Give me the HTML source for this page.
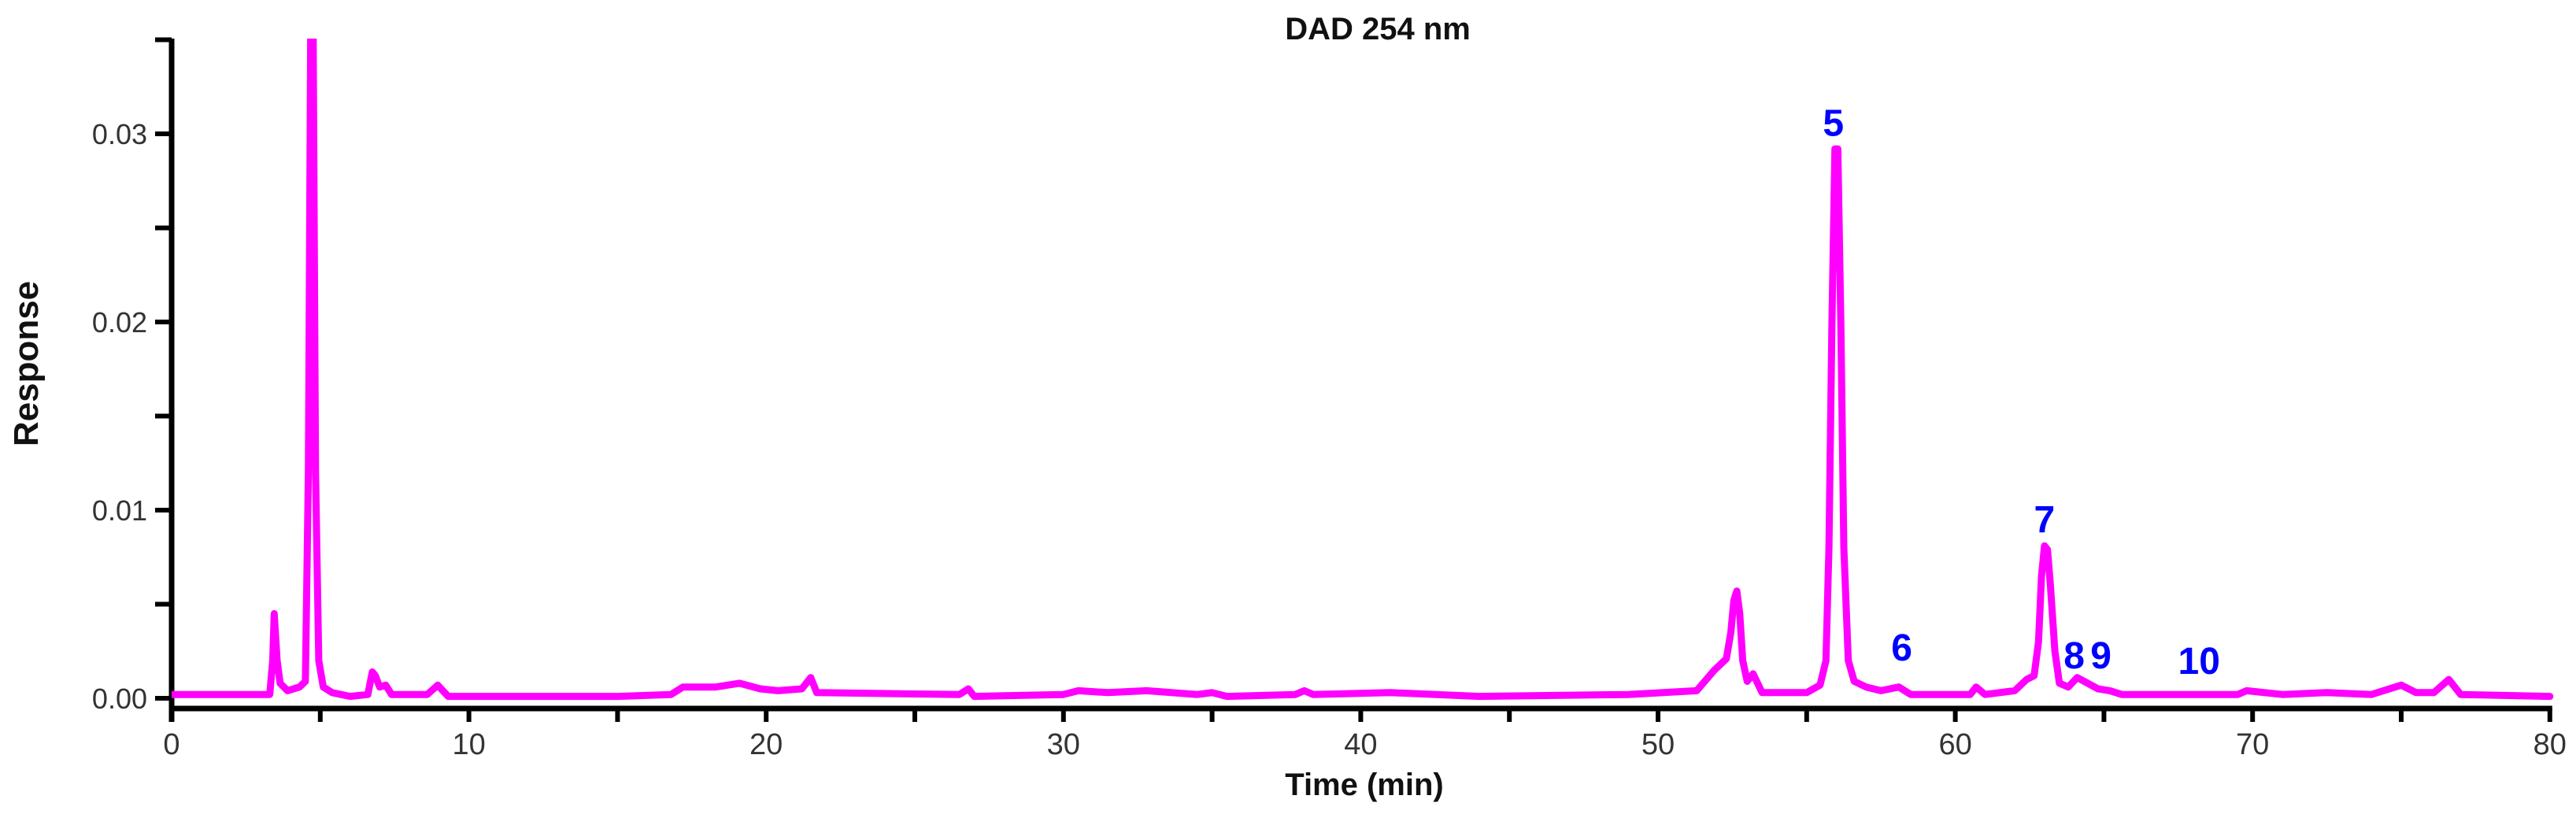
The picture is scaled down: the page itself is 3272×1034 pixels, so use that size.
<!DOCTYPE html>
<html><head><meta charset="utf-8"><style>
html,body{margin:0;padding:0;background:#fff;}
svg{display:block;}
</style></head><body>
<svg id="chart" width="3272" height="1034" viewBox="0 0 3272 1034" xmlns="http://www.w3.org/2000/svg" font-family="Liberation Sans, Arial, sans-serif">
<text x="1750" y="50" text-anchor="middle" font-size="40" font-weight="bold" fill="#111">DAD 254 nm</text>
<text transform="translate(48,462) rotate(-90)" text-anchor="middle" font-size="44" font-weight="bold" fill="#111">Response</text>
<text x="1733" y="1010" text-anchor="middle" font-size="40" font-weight="bold" fill="#111">Time (min)</text>
<g id="axes"></g>
<g id="series"></g>
<g id="labels"></g>
</svg>
<script>
const times = [0,3.3,3.4,3.45,3.55,3.65,3.9,4.3,4.5,4.6,4.68,4.76,4.84,4.95,5.1,5.4,6.0,6.6,6.75,6.85,7.0,7.2,7.4,8.6,8.95,9.3,15,16.8,17.2,18.3,19.1,19.8,20.4,21.2,21.5,21.7,26.5,26.8,27.0,30,30.5,31.5,32.8,34.5,35,35.5,37.8,38.1,38.4,41,44,49,51.3,51.9,52.3,52.45,52.55,52.65,52.75,52.85,53.0,53.2,53.5,54.5,55,55.45,55.65,55.75,55.85,55.95,56.05,56.15,56.25,56.4,56.6,57,57.5,58.1,58.5,60.5,60.7,61,62,62.4,62.65,62.8,62.9,63.0,63.1,63.2,63.35,63.5,63.8,64.1,64.8,65.2,65.6,69.5,69.8,71,72.5,74,75,75.5,76.1,76.6,77,80];
const responses = [0.0002,0.0002,0.002,0.0045,0.002,0.0008,0.0004,0.0006,0.0009,0.012,0.04,0.04,0.012,0.002,0.0006,0.0003,0.0001,0.0002,0.0014,0.0012,0.0006,0.0007,0.0002,0.0002,0.0007,0.0001,0.0001,0.0002,0.0006,0.0006,0.0008,0.0005,0.0004,0.0005,0.0011,0.0003,0.0002,0.0005,0.0001,0.0002,0.0004,0.0003,0.0004,0.0002,0.0003,0.0001,0.0002,0.0004,0.0002,0.0003,0.0001,0.0002,0.0004,0.0015,0.0021,0.0035,0.0052,0.0057,0.0045,0.002,0.0009,0.0013,0.0003,0.0003,0.0003,0.0007,0.002,0.008,0.02,0.0292,0.0292,0.02,0.008,0.002,0.0009,0.0006,0.0004,0.0006,0.0002,0.0002,0.0006,0.0002,0.0004,0.001,0.0012,0.003,0.0065,0.0081,0.0079,0.006,0.0025,0.0008,0.0006,0.0011,0.0005,0.0004,0.0002,0.0002,0.0004,0.0002,0.0003,0.0002,0.0007,0.0003,0.0003,0.0010,0.0002,0.0001];
const xTickValues = [0,5,10,15,20,25,30,35,40,45,50,55,60,65,70,75,80];
const xTickLabels = ["0","","10","","20","","30","","40","","50","","60","","70","","80"];
const yTickValues = [0,0.005,0.01,0.015,0.02,0.025,0.03,0.035];
const yTickLabels = ["0.00","","0.01","","0.02","","0.03",""];
const peakNames = ["5","6","7","8","9","10"];
const peakTimes = [55.9,58.2,63.0,64.0,64.9,68.2];
const peakLabelValues = [0.0299,0.0020,0.0088,0.0016,0.0016,0.0013];

const NS = "http://www.w3.org/2000/svg";
const X0 = 218, XPM = 37.76, Y0 = 887, YPU = 23900, YTOP = 49;
function xs(t){ return X0 + t * XPM; }
function ys(v){ return Y0 - v * YPU; }
function mk(tag, attrs, parent){ const e = document.createElementNS(NS, tag); for (const k in attrs) e.setAttribute(k, attrs[k]); parent.appendChild(e); return e; }

const axes = document.getElementById('axes');
const ya = mk('line', {x1: X0, y1: YTOP, x2: X0, y2: 917, stroke: '#000', 'stroke-width': 7}, axes);


const xa = mk('line', {x1: X0 - 3, y1: 900, x2: xs(80) + 3, y2: 900, stroke: '#000', 'stroke-width': 7}, axes);



xTickValues.forEach((v, i) => {
  const tk = mk('line', {x1: xs(v), y1: 900, x2: xs(v), y2: 917, stroke: '#000', 'stroke-width': 6}, axes);
  
  
  if (xTickLabels[i]) {
    const tl = mk('text', {x: xs(v), y: 958, 'text-anchor': 'middle', 'font-size': 38, fill: '#333'}, axes);
    tl.textContent = xTickLabels[i];
    
    
  }
});
yTickValues.forEach((v, i) => {
  const tk = mk('line', {x1: 197, y1: ys(v), x2: X0, y2: ys(v), stroke: '#000', 'stroke-width': 6}, axes);
  
  
  if (yTickLabels[i]) {
    const tl = mk('text', {x: 187, y: ys(v) + 13, 'text-anchor': 'end', 'font-size': 36, fill: '#333'}, axes);
    tl.textContent = yTickLabels[i];
    
    
  }
});

const series = document.getElementById('series');
const clip = mk('clipPath', {id: 'plotclip'}, series);
mk('rect', {x: X0, y: YTOP, width: 3100, height: 900}, clip);
const pts = times.map((t, i) => xs(t).toFixed(1) + ',' + Math.max(ys(responses[i]), YTOP - 20).toFixed(1)).join(' ');
const line = mk('polyline', {points: pts, fill: 'none', stroke: '#ff00ff', 'stroke-width': 9, 'stroke-linejoin': 'round', 'stroke-linecap': 'round', 'clip-path': 'url(#plotclip)'}, series);



const labels = document.getElementById('labels');
peakNames.forEach((n, i) => {
  const t = mk('text', {x: xs(peakTimes[i]), y: ys(peakLabelValues[i]), 'text-anchor': 'middle', 'font-size': 48, 'font-weight': 'bold', fill: '#0000ff'}, labels);
  t.textContent = n;
  
  
});
</script>
</body></html>
